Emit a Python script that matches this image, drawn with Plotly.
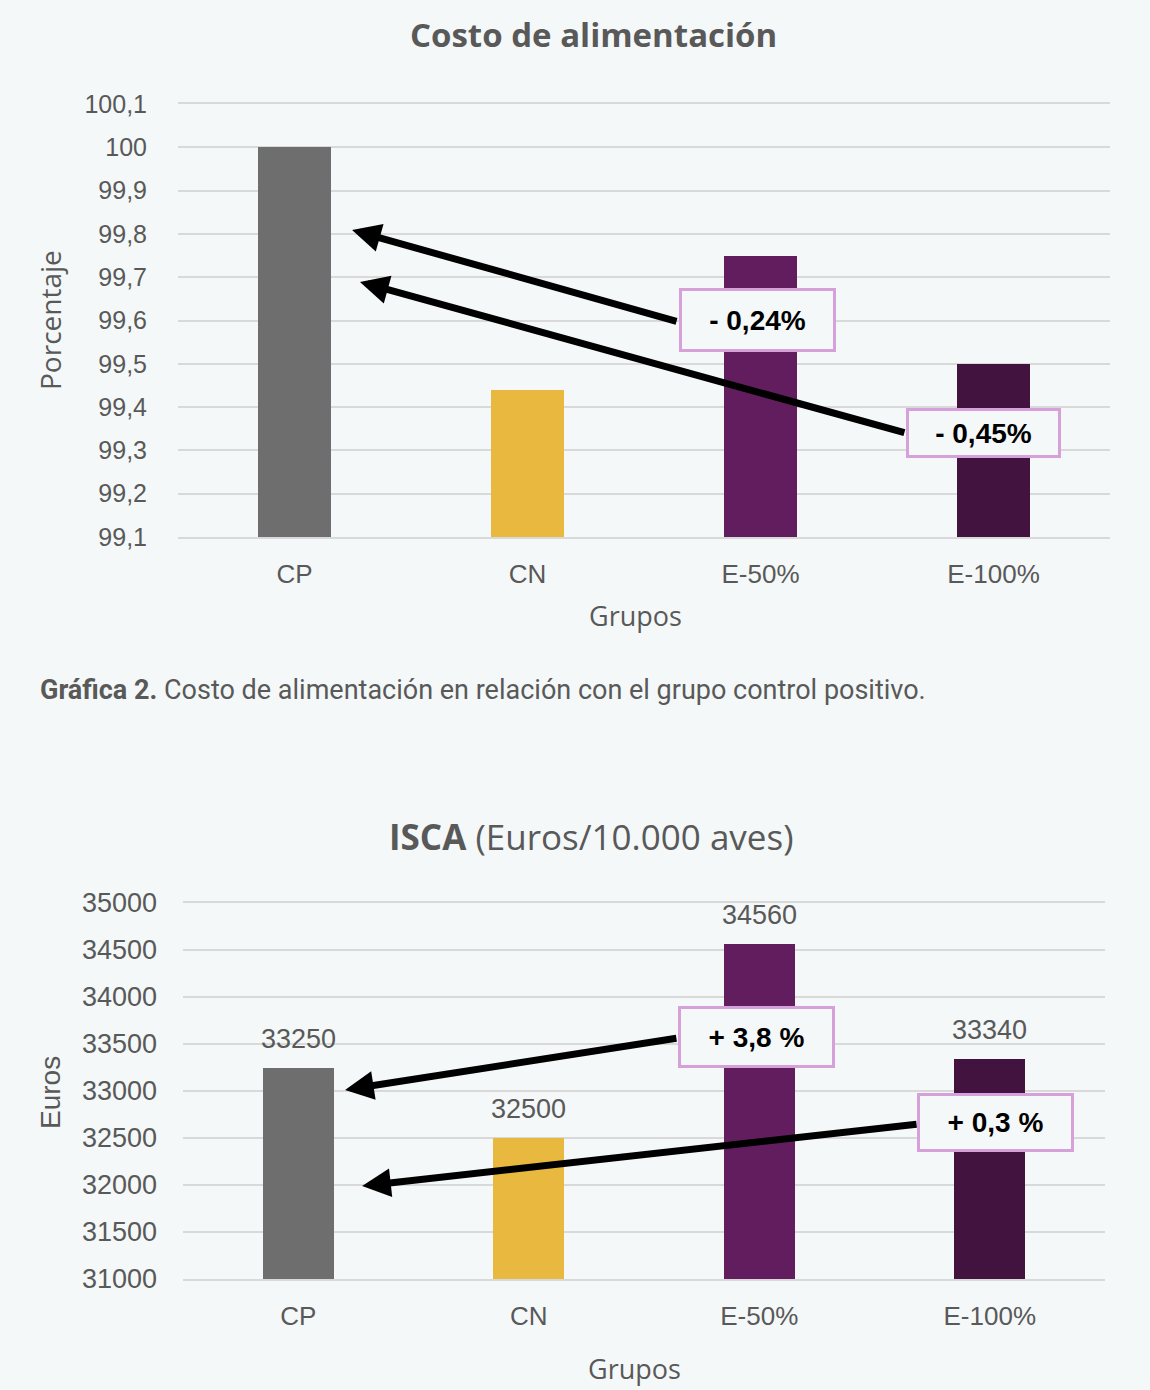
import plotly.graph_objects as go

# ---------------- data ----------------
groups = ["CP", "CN", "E-50%", "E-100%"]
bar_colors = ["#6d6e6d", "#e8b93e", "#621d5f", "#431340"]

costo_values = [100.0, 99.44, 99.75, 99.50]
costo_ticks = [99.1, 99.2, 99.3, 99.4, 99.5, 99.6, 99.7, 99.8, 99.9, 100.0, 100.1]
costo_ticklabels = ["99,1", "99,2", "99,3", "99,4", "99,5", "99,6", "99,7", "99,8", "99,9", "100", "100,1"]

isca_values = [33250, 32500, 34560, 33340]
isca_ticks = [31000, 31500, 32000, 32500, 33000, 33500, 34000, 34500, 35000]

costo_labels = ["- 0,24%", "- 0,45%"]
isca_labels = ["+ 3,8 %", "+ 0,3 %"]

# ---------------- styling ----------------
BG = "#f4f8f8"
GRID = "#d9d9d9"
TXT = "#595959"
BOX = "#d6a1da"
ARIAL = "Liberation Sans, Arial, sans-serif"
OPEN = "Open Sans, Lato, sans-serif"
W, H = 1150, 1390


def py(px):
    return 1 - px / H


fig = go.Figure()
fig.add_trace(go.Bar(x=groups, y=costo_values, marker=dict(color=bar_colors, line_width=0),
                     width=0.31, xaxis="x", yaxis="y", hoverinfo="skip"))
fig.add_trace(go.Bar(x=groups, y=isca_values, marker=dict(color=bar_colors, line_width=0),
                     width=0.31, xaxis="x2", yaxis="y2", hoverinfo="skip"))

common = dict(zeroline=False, ticks="")
fig.update_layout(
    width=W, height=H, paper_bgcolor=BG, plot_bgcolor=BG, showlegend=False,
    margin=dict(l=0, r=0, t=0, b=0, autoexpand=False), bargap=0,
    xaxis=dict(domain=[178 / W, 1110 / W], anchor="y", showgrid=False, type="category",
               showline=True, mirror=True, linecolor=GRID, linewidth=2,
               ticklabelstandoff=13, tickfont=dict(family=ARIAL, color=TXT, size=26), **common),
    yaxis=dict(domain=[py(537), py(104)], range=[99.1, 100.1], showgrid=True, gridcolor=GRID, gridwidth=2,
               showline=False, tickvals=costo_ticks, ticktext=costo_ticklabels, ticklabelstandoff=30,
               tickfont=dict(family=ARIAL, color=TXT, size=25), **common),
    xaxis2=dict(domain=[183 / W, 1105 / W], anchor="y2", showgrid=False, type="category",
                showline=True, mirror=True, linecolor=GRID, linewidth=2,
                ticklabelstandoff=13, tickfont=dict(family=ARIAL, color=TXT, size=26), **common),
    yaxis2=dict(domain=[py(1279), py(903)], range=[31000, 35000], showgrid=True, gridcolor=GRID, gridwidth=2,
                showline=False, tickvals=isca_ticks, tickformat="d", ticklabelstandoff=20,
                tickfont=dict(family=ARIAL, color=TXT, size=27), **common),
)

ann = []


def txt(text, x, y, font, **kw):
    d = dict(text=text, x=x / W, y=py(y), xref="paper", yref="paper", showarrow=False,
             xanchor="center", yanchor="middle", font=font)
    d.update(kw)
    ann.append(d)


txt("<b>Costo de alimentación</b>", 593, 35, dict(family=OPEN, size=33, color=TXT))
txt("<b>ISCA</b> (Euros/10.000 aves)", 591, 836, dict(family=OPEN, size=35, color=TXT))
txt("<b>Gráfica 2.</b> Costo de alimentación en relación con el grupo control positivo.", 38, 690,
    dict(family="Roboto, sans-serif", size=27, color=TXT), xanchor="left")
txt("Grupos", 635, 615, dict(family=OPEN, size=27, color=TXT))
txt("Grupos", 634, 1368, dict(family=OPEN, size=27, color=TXT))
txt("Porcentaje", 50, 320, dict(family=OPEN, size=28, color=TXT), textangle=-90)
txt("Euros", 50, 1093, dict(family=ARIAL, size=28, color=TXT), textangle=-90)

# data labels chart 2
for g, v in zip(groups, isca_values):
    ann.append(dict(text=str(v), x=g, y=v, xref="x2", yref="y2", yanchor="bottom", yshift=12,
                    showarrow=False, font=dict(family=ARIAL, size=27, color=TXT)))

# arrows (head x,y ; tail ax,ay) in data units
arrows1 = [((0.247, 99.809), (1.646, 99.597)), ((0.281, 99.689), (2.624, 99.340))]
for (hx, hy), (tx, ty) in arrows1:
    ann.append(dict(text="", x=hx, y=hy, ax=tx, ay=ty, xref="x", yref="y", axref="x", ayref="y",
                    showarrow=True, arrowhead=2, arrowsize=0.82, arrowwidth=7, arrowcolor="black"))
arrows2 = [((0.203, 33011), (1.647, 33564)), ((0.277, 31989), (2.689, 32649))]
for (hx, hy), (tx, ty) in arrows2:
    ann.append(dict(text="", x=hx, y=hy, ax=tx, ay=ty, xref="x2", yref="y2", axref="x2", ayref="y2",
                    showarrow=True, arrowhead=2, arrowsize=0.82, arrowwidth=7, arrowcolor="black"))

# label boxes
boxes1 = [(1.985, 99.601, 151, 58), (2.959, 99.340, 149, 44)]
for (bx, by, bw, bh), lab in zip(boxes1, costo_labels):
    ann.append(dict(text="<b>" + lab + "</b>", x=bx, y=by, xref="x", yref="y", showarrow=False,
                    xanchor="center", yanchor="middle",
                    width=bw, height=bh, borderpad=0, borderwidth=3, bordercolor=BOX, bgcolor=BG,
                    font=dict(family=ARIAL, size=28, color="black")))
boxes2 = [(1.986, 33574, 151, 56), (3.027, 32670, 151, 53)]
for (bx, by, bw, bh), lab in zip(boxes2, isca_labels):
    ann.append(dict(text="<b>" + lab + "</b>", x=bx, y=by, xref="x2", yref="y2", showarrow=False,
                    xanchor="center", yanchor="middle",
                    width=bw, height=bh, borderpad=0, borderwidth=3, bordercolor=BOX, bgcolor=BG,
                    font=dict(family=ARIAL, size=28, color="black")))

fig.update_layout(annotations=ann)
fig.write_html("out.html", config={"displayModeBar": False}, post_script=(
    "document.body.style.margin='0';document.body.style.padding='0';"
    "document.body.style.overflow='hidden';document.documentElement.style.background='" + BG + "';"
    "document.body.style.background='" + BG + "';"))
